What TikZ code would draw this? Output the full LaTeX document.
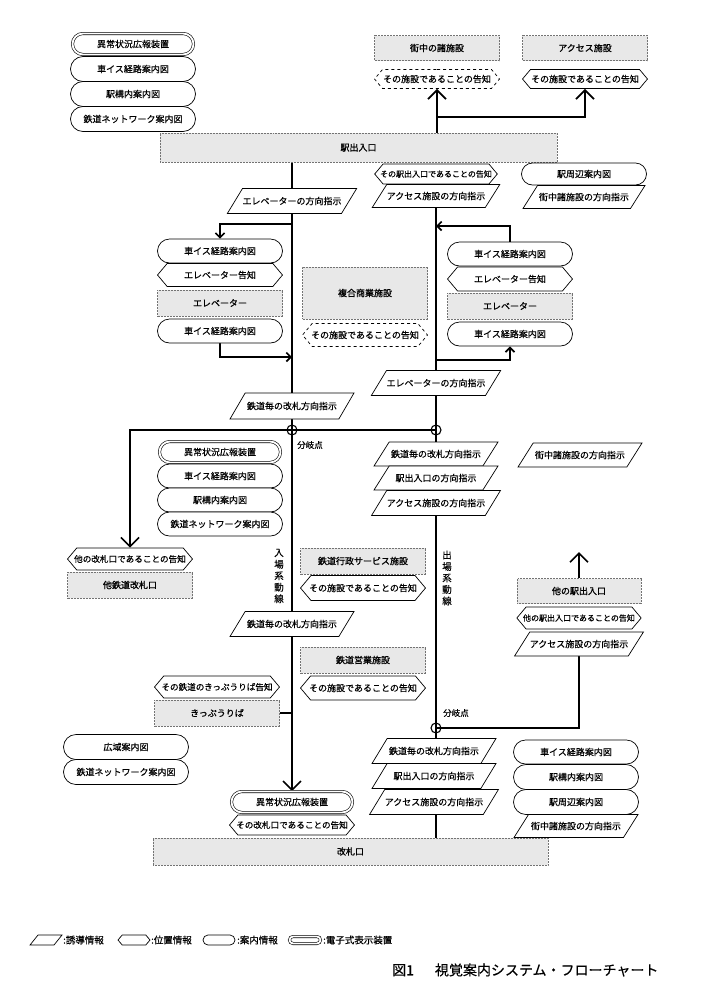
\documentclass[tikz,border=0pt]{standalone}
\usepackage{fontspec}
\setmainfont{Noto Sans CJK JP}
\newfontface\nfont{Noto Sans CJK JP}[FakeBold=0.35]
\newfontface\gfont{Noto Sans CJK JP}[FakeBold=1]
\usetikzlibrary{shapes.misc,shapes.geometric,shapes.symbols,arrows.meta,backgrounds}
\begin{document}
\begin{tikzpicture}[x=1pt,y=-1pt,
  every node/.style={font=\nfont\fontsize{9}{10}\selectfont, inner sep=0pt},
  base/.style={line width=0.7pt, draw=black, fill=white},
  info/.style={base, rounded rectangle, minimum width=125pt, minimum height=25pt},
  edev/.style={base, rounded rectangle, double, double distance=1.8pt, line width=0.6pt, minimum height=21pt, minimum width=121pt},
  hexa/.style={base, signal, signal to=east and west, signal pointer angle=100, minimum width=125pt, minimum height=22pt, inner xsep=-3pt},
  dhexa/.style={hexa, dashed},
  para/.style={base, trapezium, trapezium left angle=57, trapezium right angle=123, trapezium stretches body, inner ysep=7.5pt, minimum width=124pt, minimum height=25pt},
  gbox/.style={draw=black!55, densely dotted, line width=0.5pt, fill=black!9, minimum width=125pt, minimum height=26pt, font=\gfont\fontsize{9}{10}\selectfont},
  small/.style={font=\nfont\fontsize{8}{9}\selectfont},
  mid/.style={font=\nfont\fontsize{8.6}{9}\selectfont},
  lbl/.style={font=\nfont\fontsize{8.5}{10}\selectfont},
  vlbl/.style={align=center, font=\nfont\fontsize{9.5}{11.5}\selectfont},
  leg/.style={anchor=west, font=\nfont\fontsize{9.5}{10}\selectfont},
  junc/.style={circle, draw, line width=1.1pt, minimum size=10pt, inner sep=0pt},
  flow/.style={line width=1.7pt},
  arr/.style={flow, -{Straight Barb[length=9pt,width=18pt]}},
  sarr/.style={flow, -{Straight Barb[length=4.5pt,width=9pt]}}
]
\useasboundingbox (0,0) rectangle (728,1005);

% ---- top-left stack
\node[edev] (a1) at (133,44) {異常状況広報装置};
\node[info] (a2) at (133,69) {車イス経路案内図};
\node[info] (a3) at (133,94) {駅構内案内図};
\node[info] (a4) at (133,119) {鉄道ネットワーク案内図};

% ---- top right
\node[gbox, minimum height=25pt] (machi) at (437,48) {街中の諸施設};
\node[dhexa, minimum height=19pt] (machih) at (437,79) {その施設であることの告知};
\node[gbox, minimum height=25pt] (acc) at (585,48) {アクセス施設};
\node[hexa, minimum height=19pt] (acch) at (585,79) {その施設であることの告知};
\coordinate (tj) at (437,117);

\node[gbox, minimum width=397pt, minimum height=29pt] (eki) at (358.5,147.5) {駅出入口};
\node[hexa, small, minimum height=20pt, minimum width=120pt] (ekih) at (436,174) {その駅出入口であることの告知};
\node[para, minimum height=23pt, minimum width=118pt, inner ysep=7pt] (accp) at (436,196) {アクセス施設の方向指示};
\node[info, minimum height=22pt] (shuhen) at (584,174) {駅周辺案内図};
\node[para, minimum height=23pt, minimum width=122pt, inner ysep=7pt] (machip) at (584,197) {街中諸施設の方向指示};

% ---- left elevator group
\node[para] (elevp) at (292,201) {エレベーターの方向指示};
\node[info, minimum height=24pt] (l1) at (220,251) {車イス経路案内図};
\node[hexa, minimum height=23pt] (l2) at (220,275) {エレベーター告知};
\node[gbox] (l3) at (220,303) {エレベーター};
\node[info, minimum height=24pt] (l4) at (220,331) {車イス経路案内図};
\coordinate (le1) at (292,224);
\coordinate (le2) at (292,357);

% ---- middle commercial
\node[gbox, minimum height=52pt] (fukugo) at (365,293) {複合商業施設};
\node[dhexa, minimum height=23pt] (fukugoh) at (365,335) {その施設であることの告知};

\node[para, minimum height=26pt] (kaisatsu1) at (292,406) {鉄道毎の改札方向指示};

% ---- right elevator group
\node[info, minimum height=24pt] (r1) at (510,254) {車イス経路案内図};
\node[hexa, minimum height=24pt] (r2) at (510,279) {エレベーター告知};
\node[gbox] (r3) at (510,306) {エレベーター};
\node[info, minimum height=24pt] (r4) at (510,334) {車イス経路案内図};
\coordinate (re1) at (436,226);
\coordinate (re2) at (436,360);
\node[para] (elevp2) at (436,383) {エレベーターの方向指示};

% ---- branch row
\node[junc] (c1) at (292,430) {};
\node[junc] (c2) at (436,430) {};
\node[lbl] (bl1) at (310,445) {分岐点};

\node[edev] (m1) at (220,452) {異常状況広報装置};
\node[info, minimum height=24pt] (m2) at (220,476) {車イス経路案内図};
\node[info, minimum height=24pt] (m3) at (220,500) {駅構内案内図};
\node[info, minimum height=24pt] (m4) at (220,524) {鉄道ネットワーク案内図};

\node[hexa, mid] (tah) at (130,559) {他の改札口であることの告知};
\node[gbox] (tab) at (130,585) {他鉄道改札口};

\node[para, minimum height=24pt] (p1) at (436,454) {鉄道毎の改札方向指示};
\node[para, minimum height=24pt] (p2) at (436,478) {駅出入口の方向指示};
\node[para, minimum height=25pt] (p3) at (436,503) {アクセス施設の方向指示};
\node[para, minimum height=24pt] (machip2) at (580,455) {街中諸施設の方向指示};

\coordinate (up) at (579,552);
\node[gbox, minimum height=25pt, minimum width=124pt] (tae) at (579,591) {他の駅出入口};
\node[hexa, small, minimum width=124pt] (taeh) at (579,618) {他の駅出入口であることの告知};
\node[para, minimum height=24pt, minimum width=123pt] (accp2) at (579,644) {アクセス施設の方向指示};

% ---- middle column
\node[gbox] (gyosei) at (363,561) {鉄道行政サービス施設};
\node[hexa, minimum height=25pt] (gyoseih) at (363,588) {その施設であることの告知};
\node[para] (kaisatsu2) at (292,624) {鉄道毎の改札方向指示};
\node[gbox] (eigyo) at (363,660) {鉄道営業施設};
\node[hexa, minimum height=24pt] (eigyoh) at (363,688) {その施設であることの告知};

\node[hexa, mid] (kippuh) at (217,687) {その鉄道のきっぷうりば告知};
\node[gbox] (kippu) at (217,713) {きっぷうりば};

\node[junc] (c3) at (436,728) {};
\node[lbl] (bl2) at (456,713) {分岐点};

\node[vlbl] (v1) at (279,576) {入\\場\\系\\動\\線};
\node[vlbl] (v2) at (447,578) {出\\場\\系\\動\\線};

% ---- bottom
\node[info] (b1) at (126,747) {広域案内図};
\node[info] (b2) at (126,772) {鉄道ネットワーク案内図};
\node[edev] (b3) at (292,802) {異常状況広報装置};
\node[hexa, mid, minimum height=20pt] (b4) at (292,825) {その改札口であることの告知};
\node[gbox, minimum width=395pt, minimum height=27pt] (kai) at (350.5,851.5) {改札口};

\node[para] (q1) at (434,751) {鉄道毎の改札方向指示};
\node[para] (q2) at (434,776) {駅出入口の方向指示};
\node[para] (q3) at (434,802) {アクセス施設の方向指示};
\node[info, minimum height=24pt] (s1) at (576,752) {車イス経路案内図};
\node[info] (s2) at (576,777) {駅構内案内図};
\node[info] (s3) at (576,802) {駅周辺案内図};
\node[para, minimum height=23pt, inner ysep=7pt] (s4) at (576,826) {街中諸施設の方向指示};

% ---- legend
\draw[line width=0.7pt] (30,945) -- (38,935) -- (62,935) -- (54,945) -- cycle;
\node[leg] (lt1) at (63,940) {:誘導情報};
\node[hexa, minimum width=32pt, minimum height=10pt, inner xsep=0pt] (lg2) at (134,940) {};
\node[leg] (lt2) at (151,940) {:位置情報};
\node[info, minimum width=32pt, minimum height=10pt] (lg3) at (219,940) {};
\node[leg] (lt3) at (237,940) {:案内情報};
\node[edev, minimum width=31pt, minimum height=7pt] (lg4) at (305,940) {};
\node[leg] (lt4) at (323,940) {:電子式表示装置};

\node[anchor=west, font=\nfont\fontsize{14}{16}\selectfont] (title) at (392,970) {図1\hspace{1.5em}視覚案内システム・フローチャート};

% ---- connectors
\begin{scope}[on background layer]
\draw[arr] (eki.north -| machih) -- (machih.south);
\draw[arr] (tj) -| (acch.south);
\draw[arr] (eki.south -| elevp) -- (b3.north);
\draw[sarr] (le1) -| (l1.north);
\draw[sarr] (l4.south) |- (le2);
\draw[flow] (accp.south) -- (kai.north -| accp);
\draw[sarr] (r1.north) |- (re1);
\draw[sarr] (re2) -| (r4.south);
\draw[arr] (c1.center) -| (tah.north);
\draw[flow] (c1.center) -- (c2.center);
\draw[arr] (tae.north) -- (up);
\draw[flow] (accp2.south) |- (c3.center);
\draw[flow] (kippu.east) -- (kippu.east -| kaisatsu2);
\end{scope}
\end{tikzpicture}
\end{document}
